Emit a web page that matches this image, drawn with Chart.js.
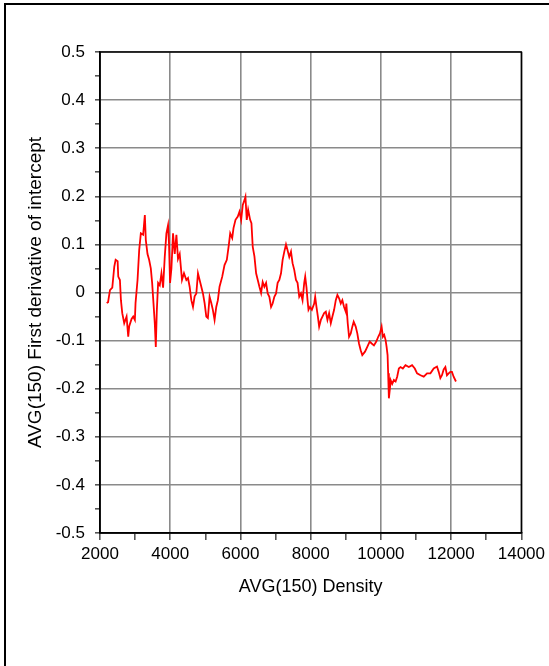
<!DOCTYPE html>
<html>
<head>
<meta charset="utf-8">
<script src="https://cdn.jsdelivr.net/npm/chart.js@4.4.0/dist/chart.umd.min.js"></script>
<style>
  body { margin: 0; background: #fff; }
  #marco { position: absolute; left: 4px; top: 3px; width: 700px; height: 800px; border: 2px solid #000; }
  #wrap { position: absolute; left: 0; top: 0; width: 549px; height: 666px; }
</style>
</head>
<body>
<div id="marco"></div>
<div id="wrap"><canvas id="derivadaChart" width="549" height="666"></canvas></div>
<script>
// Datos: densidad promedio vs primera derivada del intercepto
const densidad = [
    2190, 2230, 2284, 2350, 2407, 2445, 2502, 2520, 2567, 2596, 2634, 2690, 2757, 2804, 2832,
    2899, 2946, 2993, 3012, 3069, 3116, 3163, 3229, 3277, 3305, 3353, 3399, 3447, 3485, 3523,
    3560, 3589, 3617, 3655, 3702, 3750, 3797, 3844, 3891, 3938, 3966, 3995, 4034, 4080, 4128,
    4176, 4221, 4270, 4335, 4392, 4459, 4506, 4553, 4601, 4648, 4695, 4743, 4790, 4837, 4885,
    4932, 4979, 5027, 5072, 5121, 5169, 5214, 5263, 5311, 5357, 5404, 5481, 5546, 5612, 5669,
    5708, 5765, 5802, 5859, 5924, 5972, 6020, 6066, 6114, 6142, 6179, 6219, 6276, 6313, 6350,
    6398, 6446, 6493, 6540, 6588, 6633, 6681, 6730, 6776, 6823, 6872, 6917, 6965, 7014, 7059,
    7107, 7155, 7201, 7249, 7297, 7342, 7390, 7439, 7484, 7532, 7581, 7626, 7674, 7723, 7768,
    7816, 7844, 7881, 7910, 7938, 7978, 8034, 8100, 8128, 8165, 8205, 8241, 8290, 8335, 8383,
    8431, 8477, 8525, 8573, 8619, 8667, 8715, 8761, 8809, 8857, 8902, 8951, 8999, 9016, 9055,
    9093, 9141, 9186, 9225, 9282, 9328, 9376, 9424, 9470, 9547, 9612, 9680, 9737, 9802, 9868,
    9924, 9972, 10020, 10057, 10094, 10134, 10162, 10190, 10206, 10227, 10256, 10276, 10321, 10369, 10418,
    10463, 10511, 10559, 10624, 10700, 10795, 10888, 10965, 11030, 11127, 11220, 11314, 11410, 11504, 11597,
    11646, 11693, 11739, 11788, 11836, 11881, 11930, 11978, 12023, 12071, 12137
];
const derivada = [
    -0.022, -0.020, 0.005, 0.010, 0.054, 0.068, 0.065, 0.033, 0.026, -0.016, -0.043, -0.064, -0.050, -0.092, -0.070,
    -0.055, -0.050, -0.057, -0.022, 0.026, 0.088, 0.123, 0.120, 0.161, 0.109, 0.080, 0.068, 0.050, 0.020, -0.022,
    -0.064, -0.113, -0.040, 0.020, 0.015, 0.040, 0.010, 0.074, 0.123, 0.140, 0.100, 0.020, 0.050, 0.123, 0.080,
    0.120, 0.070, 0.080, 0.026, 0.040, 0.026, 0.030, 0.012, -0.016, -0.030, -0.008, -0.002, 0.040, 0.026, 0.012,
    -0.002, -0.022, -0.050, -0.053, -0.009, -0.022, -0.036, -0.057, -0.030, -0.016, 0.012, 0.033, 0.057, 0.068, 0.099,
    0.123, 0.113, 0.134, 0.151, 0.158, 0.168, 0.151, 0.182, 0.192, 0.199, 0.151, 0.172, 0.151, 0.144, 0.095,
    0.075, 0.040, 0.026, 0.012, -0.001, 0.022, 0.012, 0.020, -0.002, -0.009, -0.030, -0.023, -0.009, -0.002, 0.020,
    0.026, 0.040, 0.068, 0.085, 0.100, 0.088, 0.074, 0.085, 0.061, 0.047, 0.026, 0.020, -0.009, -0.002, -0.016,
    0.020, 0.033, 0.010, -0.016, -0.036, -0.030, -0.036, -0.023, -0.009, -0.030, -0.050, -0.071, -0.057, -0.050, -0.043,
    -0.040, -0.057, -0.043, -0.064, -0.050, -0.036, -0.016, -0.005, -0.012, -0.023, -0.016, -0.030, -0.040, -0.023, -0.064,
    -0.092, -0.085, -0.071, -0.061, -0.071, -0.085, -0.106, -0.120, -0.130, -0.123, -0.113, -0.102, -0.106, -0.110, -0.102,
    -0.092, -0.085, -0.071, -0.092, -0.088, -0.099, -0.113, -0.130, -0.168, -0.220, -0.200, -0.182, -0.190, -0.182, -0.185,
    -0.175, -0.158, -0.155, -0.158, -0.151, -0.155, -0.151, -0.158, -0.168, -0.172, -0.175, -0.168, -0.168, -0.158, -0.154,
    -0.165, -0.178, -0.172, -0.160, -0.155, -0.172, -0.168, -0.165, -0.165, -0.175, -0.185
];

// Ejes
const ejeXMin = 2000, ejeXMax = 14000, ejeXPaso = 1000;
const ejeYMin = -0.5, ejeYMax = 0.5, ejeYPaso = 0.05;
const tituloX = 'AVG(150) Density';
const tituloY = 'AVG(150) First derivative of intercept';

const fuente = 'Liberation Sans, Arial, sans-serif';

// Marco negro alrededor del área del gráfico
const marcoArea = {
    id: 'marcoArea',
    afterDatasetsDraw(chart) {
        const { ctx, chartArea: a } = chart;
        ctx.save();
        ctx.strokeStyle = '#000';
        ctx.lineWidth = 1.5;
        ctx.strokeRect(a.left, a.top, a.right - a.left, a.bottom - a.top);
        ctx.restore();
    }
};

const esMayor = (v, paso) => Math.abs(Math.round(v / paso) * paso - v) < 1e-6;

const ctx = document.getElementById('derivadaChart').getContext('2d');
new Chart(ctx, {
    type: 'scatter',
    data: {
        datasets: [{
            data: densidad.map((d, i) => ({ x: d, y: derivada[i] })),
            showLine: true,
            borderColor: '#ff0000',
            borderWidth: 1.8,
            pointRadius: 0,
            tension: 0
        }]
    },
    options: {
        responsive: false,
        animation: false,
        layout: { padding: { left: 0, right: 26, top: 52, bottom: 0 } },
        plugins: {
            legend: { display: false },
            tooltip: { enabled: false }
        },
        scales: {
            x: {
                type: 'linear',
                min: ejeXMin,
                max: ejeXMax,
                afterFit: scale => { scale.height = 133; },
                ticks: {
                    stepSize: ejeXPaso,
                    autoSkip: false,
                    maxRotation: 0,
                    padding: 4,
                    color: '#000',
                    font: { family: fuente, size: 17 },
                    callback: v => esMayor(v, 2000) ? String(Math.round(v)) : ''
                },
                grid: {
                    color: c => (c.tick && esMayor(c.tick.value, 2000)) ? '#8a8a8a' : 'rgba(0,0,0,0)',
                    tickColor: '#555',
                    lineWidth: 1.6,
                    tickLength: 7
                },
                border: { color: '#000', width: 1.5 },
                title: {
                    display: true,
                    text: tituloX,
                    color: '#000',
                    font: { family: fuente, size: 18 },
                    padding: { top: 0, bottom: 68 }
                }
            },
            y: {
                min: ejeYMin,
                max: ejeYMax,
                afterFit: scale => { scale.width = 100; },
                ticks: {
                    stepSize: ejeYPaso,
                    autoSkip: false,
                    padding: 10,
                    color: '#000',
                    font: { family: fuente, size: 17 },
                    callback: v => esMayor(v, 0.1) ? String(Math.round(v * 10) / 10) : ''
                },
                grid: {
                    color: c => (c.tick && esMayor(c.tick.value, 0.1)) ? '#8a8a8a' : 'rgba(0,0,0,0)',
                    tickColor: '#555',
                    lineWidth: 1.6,
                    tickLength: 5
                },
                border: { color: '#000', width: 1.5 },
                title: {
                    display: true,
                    text: tituloY,
                    color: '#000',
                    font: { family: fuente, size: 19 },
                    padding: { top: 24, bottom: 0 }
                }
            }
        }
    },
    plugins: [marcoArea]
});
</script>
</body>
</html>
